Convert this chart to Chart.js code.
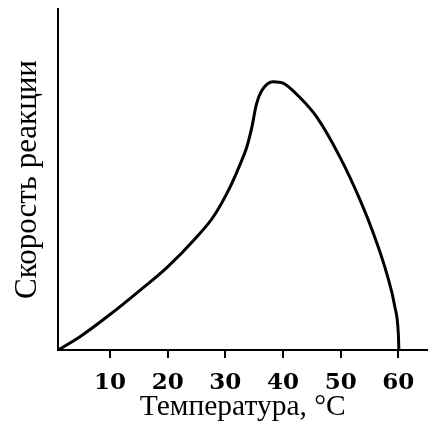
<!DOCTYPE html>
<html>
<head>
<meta charset="utf-8">
<script src="https://cdn.jsdelivr.net/npm/chart.js@4"></script>
<style>
  html, body { margin: 0; padding: 0; background: #fff; }
  #wrap { width: 428px; height: 429px; position: relative; }
</style>
</head>
<body>
<div id="wrap"><canvas id="chart"></canvas></div>
<script>
// Температура (°C) и скорость реакции (усл. ед.)
const temperature = [1.0, 4.8, 10.0, 15.2, 20.0, 25.0, 27.9, 30.8, 32.6, 33.7, 34.6, 35.4, 36.3, 38.3, 40.1, 42.9, 45.9, 49.9, 53.4, 55.7, 58.0, 59.4, 60.0, 60.1];
const rate = [0, 3.9, 10.4, 17.5, 24.4, 33.1, 39.0, 47.7, 54.6, 59.4, 65.3, 72.1, 76.0, 78.7, 78.2, 74.1, 68.2, 56.5, 43.9, 34.1, 22.4, 12.7, 4.9, 0];
const xTickValues = [10, 20, 30, 40, 50, 60];

const serif = "'Liberation Serif', 'DejaVu Serif', serif";
const wideSerif = "'DejaVu Serif', 'Liberation Serif', serif";

const points = temperature.map((t, i) => ({ x: t, y: rate[i] }));

new Chart(document.getElementById('chart').getContext('2d'), {
    type: 'scatter',
    data: {
        datasets: [{
            data: points,
            showLine: true,
            borderColor: '#000',
            borderWidth: 3,
            pointRadius: 0,
            tension: 0.4,
            cubicInterpolationMode: 'monotone',
            fill: false
        }]
    },
    options: {
        responsive: true,
        maintainAspectRatio: false,
        animation: false,
        layout: { padding: { top: 9, right: 0, bottom: 0, left: 0 } },
        plugins: {
            legend: { display: false },
            tooltip: { enabled: false }
        },
        scales: {
            x: {
                type: 'linear',
                min: 0.9,
                max: 65.15,
                afterBuildTicks: (scale) => {
                    scale.ticks = xTickValues.map(v => ({ value: v }));
                },
                border: { display: true, color: '#000', width: 2 },
                grid: {
                    drawOnChartArea: false,
                    drawTicks: true,
                    tickLength: 8,
                    color: '#000',
                    lineWidth: 2
                },
                ticks: {
                    color: '#000',
                    padding: 13.5,
                    maxRotation: 0,
                    font: { family: wideSerif, size: 23, weight: 'bold', lineHeight: 1 }
                },
                title: {
                    display: true,
                    text: 'Температура, °C',
                    color: '#000',
                    padding: { top: -16, bottom: 7.5 },
                    font: { family: serif, size: 29.5, lineHeight: 1 }
                }
            },
            y: {
                type: 'linear',
                min: 0,
                max: 100,
                border: { display: true, color: '#000', width: 2 },
                grid: { display: false, drawTicks: false },
                ticks: { display: false },
                title: {
                    display: true,
                    text: 'Скорость реакции',
                    color: '#000',
                    padding: { top: 9.4, bottom: 10.9 },
                    font: { family: serif, size: 31 }
                }
            }
        }
    }
});
</script>
</body>
</html>
